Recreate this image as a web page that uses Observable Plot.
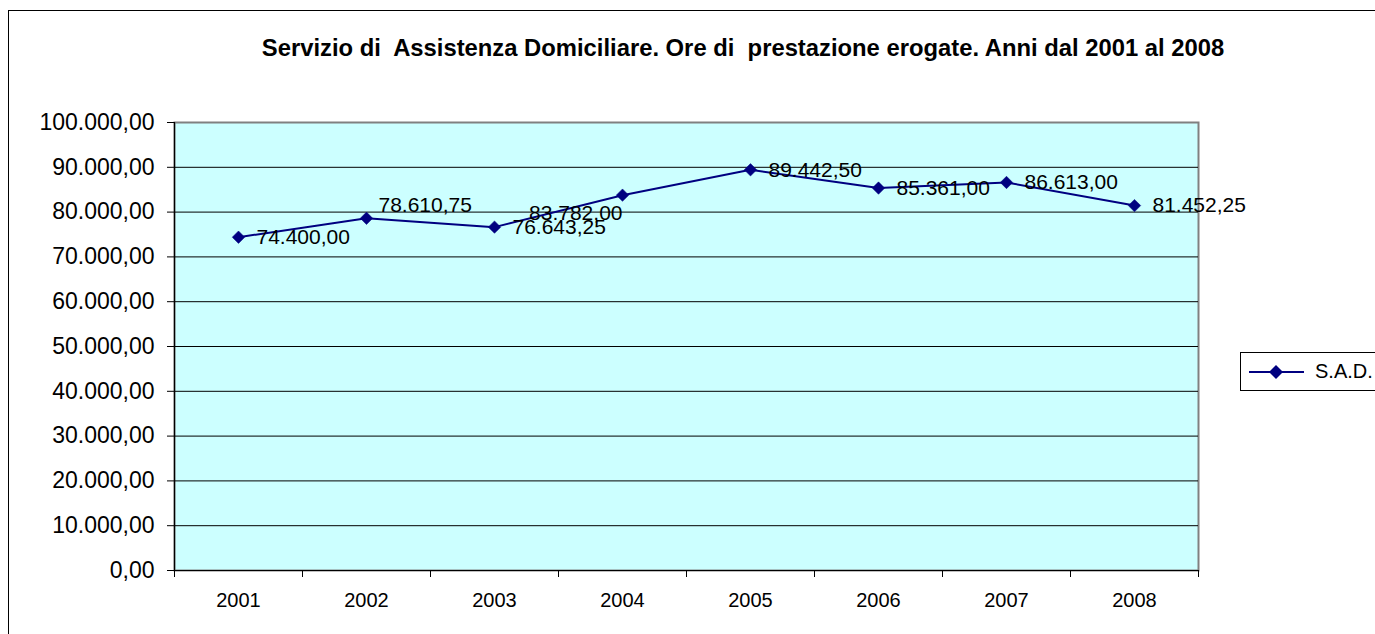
<!DOCTYPE html>
<html>
<head>
<meta charset="utf-8">
<script src="https://cdn.jsdelivr.net/npm/d3@7"></script>
<script src="https://cdn.jsdelivr.net/npm/@observablehq/plot@0.6"></script>
<style>
  html, body { margin: 0; padding: 0; background: #fff; overflow: hidden; }
  #wrap { position: relative; width: 1375px; height: 634px; font-family: "Liberation Sans", Arial, sans-serif; }
  #border { position: absolute; left: 8px; top: 10px; width: 1400px; height: 700px; border-left: 1.5px solid #000; border-top: 1.5px solid #000; }
  #title { position: absolute; left: 0; top: 34px; width: 1486px; text-align: center; font-weight: bold; font-size: 23.8px; white-space: pre; color: #000; }
  #chart { position: absolute; left: 0; top: 0; }
  #legend { position: absolute; left: 1240px; top: 352px; width: 200px; height: 37px; border: 1px solid #000; background: #fff; }
  #legend span { position: absolute; left: 74px; top: 7px; font-size: 20px; }
  #legend svg { position: absolute; left: 0; top: 0; }
</style>
</head>
<body>
<div id="wrap">
  <div id="border"></div>
  <div id="chart"></div>
  <div id="title"></div>
  <div id="legend"></div>
</div>
<script>
const titleText = "Servizio di  Assistenza Domiciliare. Ore di  prestazione erogate. Anni dal 2001 al 2008";
const years = [2001, 2002, 2003, 2004, 2005, 2006, 2007, 2008];
const values = [74400.00, 78610.75, 76643.25, 83782.00, 89442.50, 85361.00, 86613.00, 81452.25];
const seriesName = "S.A.D.";
const yTicks = [0, 10000, 20000, 30000, 40000, 50000, 60000, 70000, 80000, 90000, 100000];

const navy = "#000080";
const it = d3.formatLocale({decimal: ",", thousands: ".", grouping: [3], currency: ["", "€"]});
const fmt = it.format(",.2f");

const data = years.map((y, i) => ({year: y, value: values[i]}));
// manual label nudges (as in the original chart, two labels were moved)
const nudge = {2002: {dx: 12, dy: -13, anchor: "start"}, 2004: {dx: 0, dy: 18, anchor: "end"}};
const normal = data.filter(d => !nudge[d.year]);
const moved = data.filter(d => nudge[d.year]);
const boundaries = d3.range(years.length + 1).map(i => years[0] - 0.5 + i);

document.getElementById("title").textContent = titleText;

const labelMarks = moved.map(d => Plot.text([d], {
  x: "year", y: "value", text: d => fmt(d.value),
  dx: nudge[d.year].dx, dy: nudge[d.year].dy, textAnchor: nudge[d.year].anchor,
  fontSize: 21, fill: "#000"
}));

const chart = Plot.plot({
  width: 1375,
  height: 634,
  marginLeft: 174,
  marginRight: 177,
  marginTop: 122,
  marginBottom: 64,
  style: {fontFamily: "Liberation Sans, Arial, sans-serif", background: "transparent", overflow: "visible"},
  x: {domain: [years[0] - 0.5, years[years.length - 1] + 0.5]},
  y: {domain: [0, 100000]},
  marks: [
    Plot.frame({fill: "#CCFFFF", stroke: "#808080", strokeWidth: 2}),
    Plot.gridY(yTicks.slice(1, -1), {stroke: "#000", strokeOpacity: 1, strokeWidth: 1}),
    Plot.ruleX([years[0] - 0.5], {stroke: "#000", strokeWidth: 1.2}),
    Plot.ruleY([0], {stroke: "#000", strokeWidth: 1.2}),
    Plot.axisY({ticks: yTicks, tickSize: 7, tickPadding: 13, tickFormat: fmt, fontSize: 23, label: null, stroke: "#000", fill: "#000"}),
    Plot.axisX({ticks: boundaries, tickSize: 7, tickFormat: () => "", label: null, stroke: "#000"}),
    Plot.axisX({ticks: years, tickSize: 0, tickPadding: 22, tickFormat: d => String(d), fontSize: 20, label: null, fill: "#000"}),
    Plot.line(data, {x: "year", y: "value", stroke: navy, strokeWidth: 2}),
    Plot.dot(data, {x: "year", y: "value", symbol: "diamond2", r: 5.6, fill: navy, stroke: navy, strokeWidth: 0.5}),
    Plot.text(normal, {x: "year", y: "value", text: d => fmt(d.value), dx: 18, textAnchor: "start", fontSize: 21, fill: "#000"}),
    ...labelMarks
  ]
});
document.getElementById("chart").appendChild(chart);

// legend
const leg = document.getElementById("legend");
leg.innerHTML = `<svg width="70" height="37"><line x1="8" x2="63" y1="19" y2="19" stroke="${navy}" stroke-width="2"/><path d="M35,12L42,19L35,26L28,19Z" fill="${navy}"/></svg><span></span>`;
leg.querySelector("span").textContent = seriesName;
</script>
</body>
</html>
